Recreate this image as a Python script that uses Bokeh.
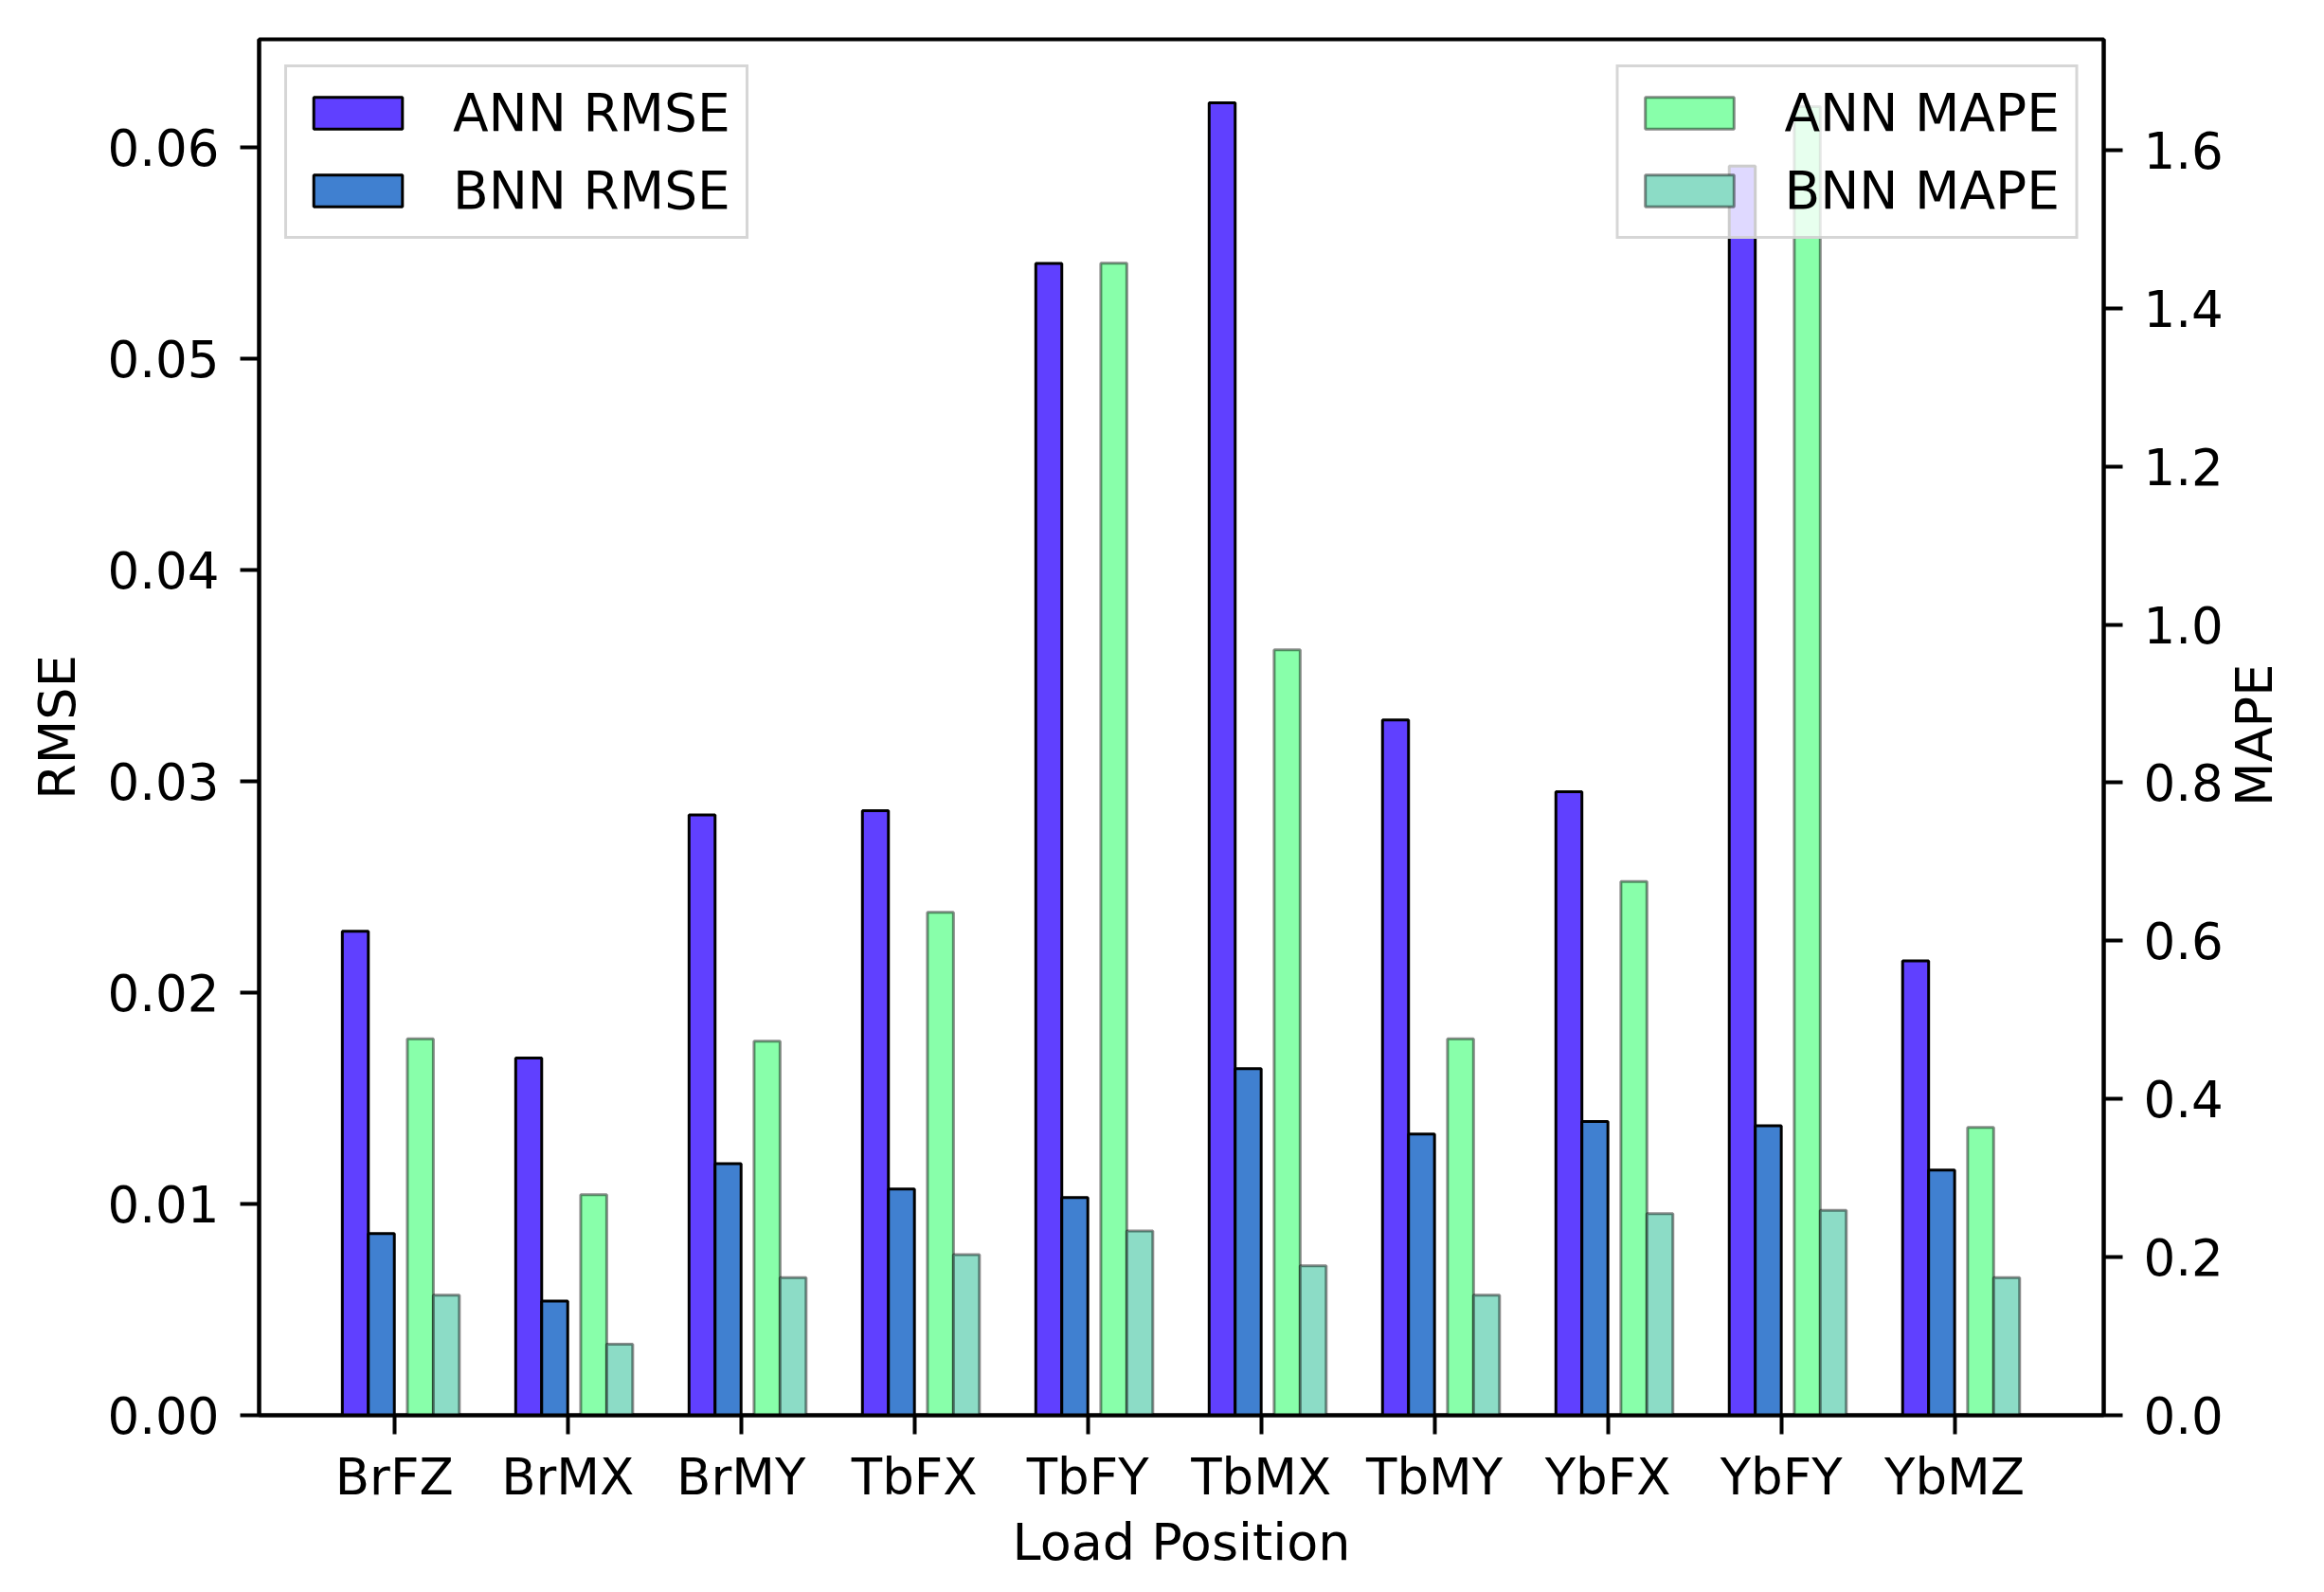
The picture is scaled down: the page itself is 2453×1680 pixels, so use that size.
import math
import numpy as np
from bokeh.plotting import figure
from bokeh.models import Range1d, LinearAxis, FixedTicker, PrintfTickFormatter, Legend, LegendItem
from bokeh.embed import file_html
from bokeh.resources import INLINE

categories = ["BrFZ", "BrMX", "BrMY", "TbFX", "TbFY", "TbMX", "TbMY", "YbFX", "YbFY", "YbMZ"]
ann_rmse = [0.0229, 0.0169, 0.0284, 0.0286, 0.0545, 0.0621, 0.0329, 0.0295, 0.0591, 0.0215]
bnn_rmse = [0.0086, 0.0054, 0.0119, 0.0107, 0.0103, 0.0164, 0.0133, 0.0139, 0.0137, 0.0116]
ann_mape = [0.476, 0.279, 0.473, 0.636, 1.457, 0.968, 0.476, 0.675, 1.655, 0.364]
bnn_mape = [0.152, 0.090, 0.174, 0.203, 0.233, 0.189, 0.152, 0.255, 0.259, 0.174]
rmse_ticks = [0.00, 0.01, 0.02, 0.03, 0.04, 0.05, 0.06]
mape_ticks = [0.0, 0.2, 0.4, 0.6, 0.8, 1.0, 1.2, 1.4, 1.6]

FONT = "DejaVu Sans"
FS = "53px"
LFS = "54px"
x = np.arange(len(categories))
w = 0.15

X0, X1 = -0.78, 9.86
Y0, Y1 = 0.0, 0.0651
M0, M1 = 0.0, 1.74

p = figure(width=2445, height=1664, output_backend="svg", toolbar_location=None,
           x_range=Range1d(X0, X1), y_range=Range1d(Y0, Y1),
           min_border_left=273, min_border_right=220, min_border_top=41, min_border_bottom=171)
p.extra_y_ranges = {"mape": Range1d(M0, M1)}
p.xgrid.visible = False
p.ygrid.visible = False
p.outline_line_color = "black"
p.outline_line_width = 4
p.background_fill_color = "white"
p.border_fill_color = "white"

r1 = p.vbar(x=x - 0.225, top=ann_rmse, width=w, fill_color="#6040ff", line_color="black", line_width=3)
r2 = p.vbar(x=x - 0.075, top=bnn_rmse, width=w, fill_color="#4080d0", line_color="black", line_width=3)
r3 = p.vbar(x=x + 0.15, top=ann_mape, width=w, fill_color="#88ffaa", line_color="black", line_alpha=0.45,
            line_width=3, y_range_name="mape")
r4 = p.vbar(x=x + 0.30, top=bnn_mape, width=w, fill_color="#8cdcc6", line_color="black", line_alpha=0.45,
            line_width=3, y_range_name="mape")

def style_axis(ax):
    ax.axis_line_width = 4
    ax.major_tick_line_width = 4
    ax.major_tick_out = 20
    ax.major_tick_in = 0
    ax.minor_tick_out = 0
    ax.minor_tick_in = 0
    ax.major_label_text_font = FONT
    ax.major_label_text_font_size = FS
    ax.major_label_text_color = "black"
    ax.axis_label_text_font = FONT
    ax.axis_label_text_font_size = LFS
    ax.axis_label_text_font_style = "normal"
    ax.axis_label_text_color = "black"

xa = p.xaxis[0]
style_axis(xa)
xa.ticker = FixedTicker(ticks=list(x))
xa.major_label_overrides = {int(i): c for i, c in zip(x, categories)}
xa.axis_label = "Load Position"
xa.major_label_standoff = 14
xa.axis_label_standoff = 4

ya = p.yaxis[0]
style_axis(ya)
ya.ticker = FixedTicker(ticks=rmse_ticks)
ya.formatter = PrintfTickFormatter(format="%.2f")
ya.axis_label = "RMSE"
ya.major_label_standoff = 22
ya.axis_label_standoff = 18

ax2 = LinearAxis(y_range_name="mape")
style_axis(ax2)
ax2.ticker = FixedTicker(ticks=mape_ticks)
ax2.formatter = PrintfTickFormatter(format="%.1f")
ax2.major_label_standoff = 22
p.add_layout(ax2, "right")

# title of the right axis: an outer axis whose single label reads bottom-to-top,
# starting a little below the middle so that the word is centred on the frame
title_pos = 0.77
ax3 = LinearAxis(y_range_name="mape")
ax3.ticker = FixedTicker(ticks=[title_pos])
ax3.major_label_overrides = {title_pos: "MAPE"}
ax3.major_label_orientation = math.pi / 2
ax3.major_label_standoff = 30
ax3.major_label_text_font = FONT
ax3.major_label_text_font_size = LFS
ax3.major_label_text_color = "black"
ax3.axis_line_color = None
ax3.major_tick_line_color = None
ax3.minor_tick_line_color = None
ax3.major_tick_out = 0
ax3.major_tick_in = 0
ax3.minor_tick_out = 0
ax3.minor_tick_in = 0
p.add_layout(ax3, "right")

def make_legend(items, loc):
    return Legend(items=items, location=loc, margin=27, padding=16, spacing=18,
                  glyph_width=117, glyph_height=42, label_standoff=42,
                  label_text_font=FONT, label_text_font_size="55px", label_text_color="black",
                  border_line_color="#cccccc", border_line_width=3, border_line_alpha=0.8,
                  background_fill_color="white", background_fill_alpha=0.8)

leg1 = make_legend([LegendItem(label="ANN RMSE", renderers=[r1]),
                    LegendItem(label="BNN RMSE", renderers=[r2])], "top_left")
leg2 = make_legend([LegendItem(label="ANN MAPE", renderers=[r3]),
                    LegendItem(label="BNN MAPE", renderers=[r4])], "top_right")
p.add_layout(leg1)
p.add_layout(leg2)

open("out.html", "w").write(file_html(p, INLINE))
